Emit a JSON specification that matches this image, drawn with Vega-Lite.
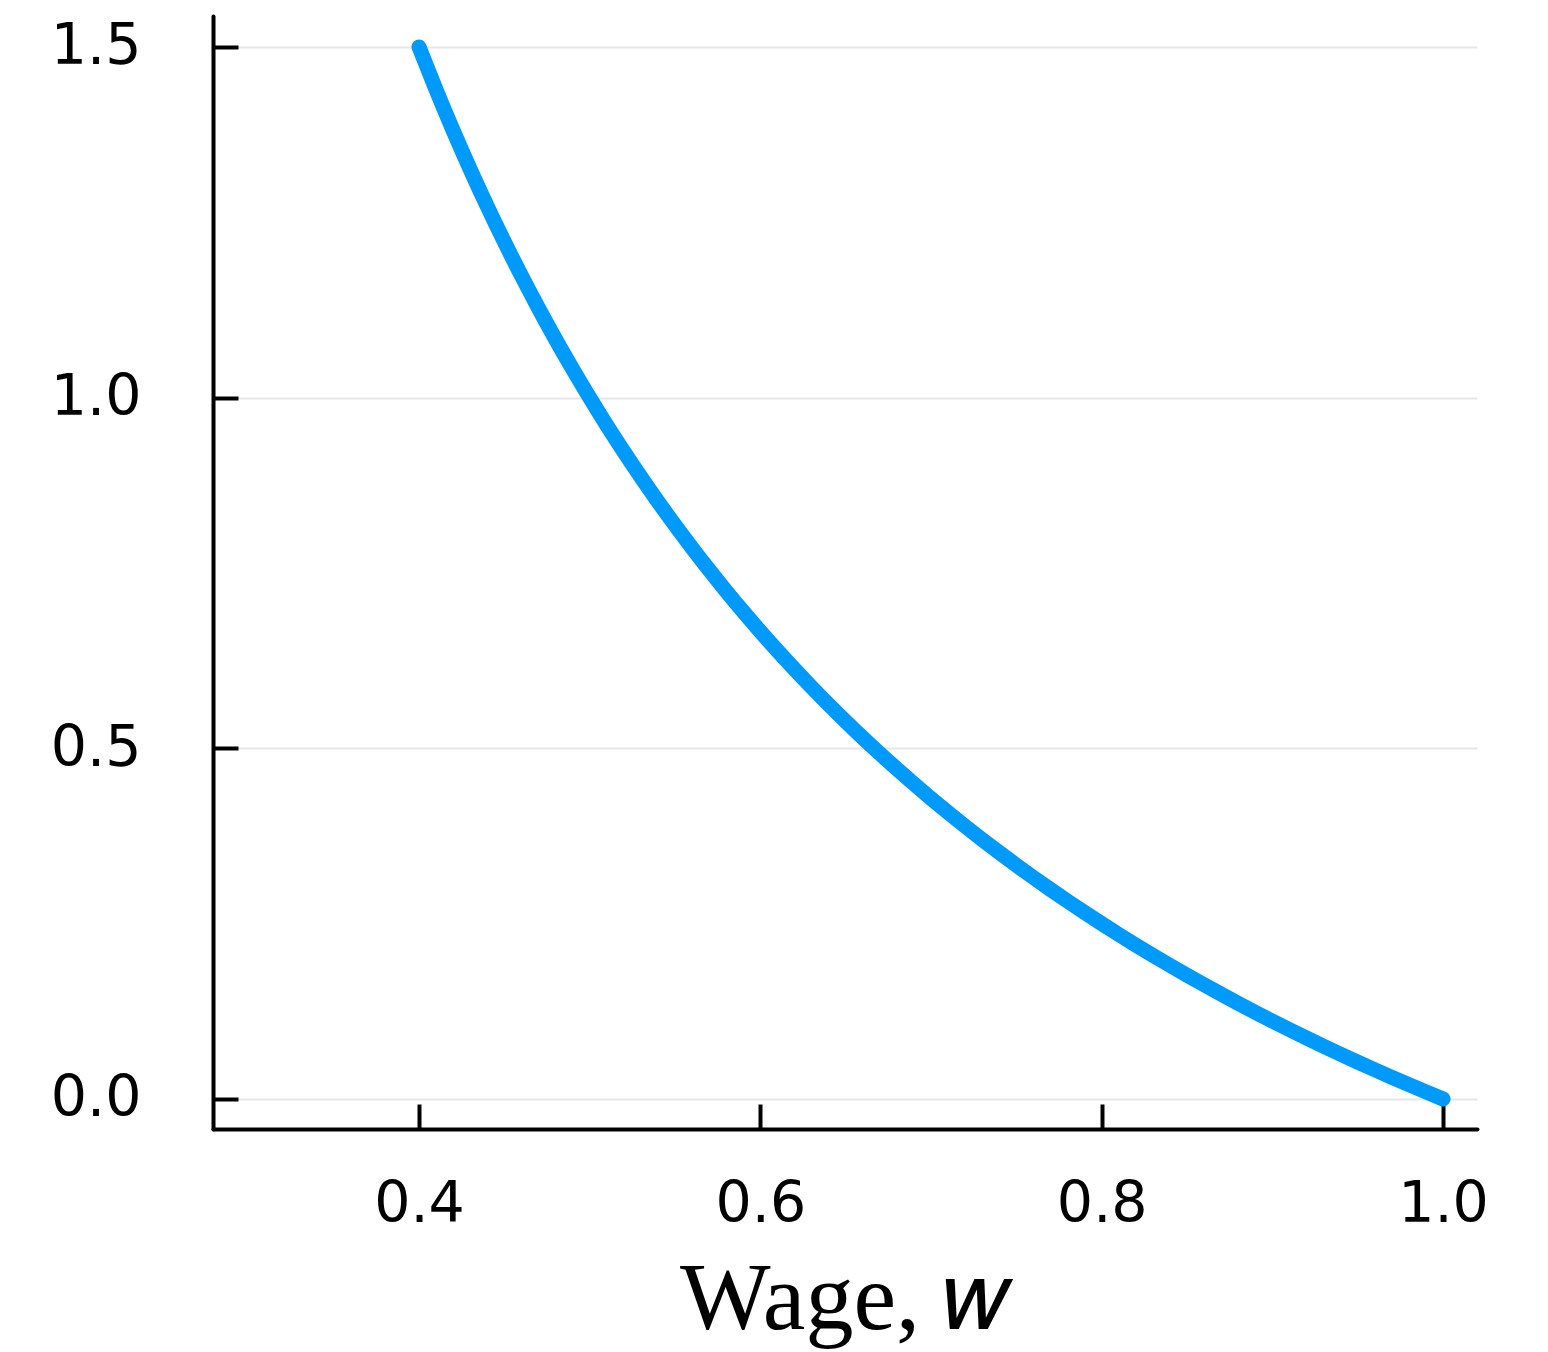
{
  "$schema": "https://vega.github.io/schema/vega-lite/v6.json",
  "width": 1264,
  "height": 1113,
  "autosize": "none",
  "padding": {"left": 213, "top": 16, "right": 71, "bottom": 223},
  "background": "white",
  "config": {"view": {"stroke": null}},
  "data": {"values": [
    {"w": 0.40, "y": 1.5},
    {"w": 0.41, "y": 1.439024},
    {"w": 0.42, "y": 1.380952},
    {"w": 0.43, "y": 1.325581},
    {"w": 0.44, "y": 1.272727},
    {"w": 0.45, "y": 1.222222},
    {"w": 0.46, "y": 1.173913},
    {"w": 0.47, "y": 1.12766},
    {"w": 0.48, "y": 1.083333},
    {"w": 0.49, "y": 1.040816},
    {"w": 0.50, "y": 1.0},
    {"w": 0.51, "y": 0.960784},
    {"w": 0.52, "y": 0.923077},
    {"w": 0.53, "y": 0.886792},
    {"w": 0.54, "y": 0.851852},
    {"w": 0.55, "y": 0.818182},
    {"w": 0.56, "y": 0.785714},
    {"w": 0.57, "y": 0.754386},
    {"w": 0.58, "y": 0.724138},
    {"w": 0.59, "y": 0.694915},
    {"w": 0.60, "y": 0.666667},
    {"w": 0.61, "y": 0.639344},
    {"w": 0.62, "y": 0.612903},
    {"w": 0.63, "y": 0.587302},
    {"w": 0.64, "y": 0.5625},
    {"w": 0.65, "y": 0.538462},
    {"w": 0.66, "y": 0.515152},
    {"w": 0.67, "y": 0.492537},
    {"w": 0.68, "y": 0.470588},
    {"w": 0.69, "y": 0.449275},
    {"w": 0.70, "y": 0.428571},
    {"w": 0.71, "y": 0.408451},
    {"w": 0.72, "y": 0.388889},
    {"w": 0.73, "y": 0.369863},
    {"w": 0.74, "y": 0.351351},
    {"w": 0.75, "y": 0.333333},
    {"w": 0.76, "y": 0.315789},
    {"w": 0.77, "y": 0.298701},
    {"w": 0.78, "y": 0.282051},
    {"w": 0.79, "y": 0.265823},
    {"w": 0.80, "y": 0.25},
    {"w": 0.81, "y": 0.234568},
    {"w": 0.82, "y": 0.219512},
    {"w": 0.83, "y": 0.204819},
    {"w": 0.84, "y": 0.190476},
    {"w": 0.85, "y": 0.176471},
    {"w": 0.86, "y": 0.162791},
    {"w": 0.87, "y": 0.149425},
    {"w": 0.88, "y": 0.136364},
    {"w": 0.89, "y": 0.123596},
    {"w": 0.90, "y": 0.111111},
    {"w": 0.91, "y": 0.098901},
    {"w": 0.92, "y": 0.086957},
    {"w": 0.93, "y": 0.075269},
    {"w": 0.94, "y": 0.06383},
    {"w": 0.95, "y": 0.052632},
    {"w": 0.96, "y": 0.041667},
    {"w": 0.97, "y": 0.030928},
    {"w": 0.98, "y": 0.020408},
    {"w": 0.99, "y": 0.010101},
    {"w": 1.00, "y": 0.0}
  ]},
  "mark": {"type": "line", "color": "#009AFA", "strokeWidth": 15, "strokeCap": "round", "strokeJoin": "round", "interpolate": "monotone"},
  "encoding": {
    "x": {
      "field": "w", "type": "quantitative",
      "scale": {"domain": [0.2793, 1.0199], "nice": false, "zero": false},
      "axis": {
        "title": "Wage, 𝑤",
        "titleFont": "Liberation Serif",
        "titleFontSize": 96,
        "titleFontWeight": "normal",
        "titleColor": "black",
        "titlePadding": 20,
        "values": [0.4, 0.6, 0.8, 1.0],
        "format": ".1f",
        "grid": false,
        "domainColor": "black",
        "domainWidth": 4,
        "domainCap": "round",
        "tickColor": "black",
        "tickWidth": 4,
        "tickSize": -25,
        "labelFont": "DejaVu Sans",
        "labelFontSize": 57,
        "labelColor": "black",
        "labelPadding": 72
      }
    },
    "y": {
      "field": "y", "type": "quantitative",
      "scale": {"domain": [-0.0428, 1.5442], "nice": false, "zero": false},
      "axis": {
        "title": null,
        "values": [0, 0.5, 1.0, 1.5],
        "format": ".1f",
        "grid": true,
        "gridColor": "#e6e6e6",
        "gridWidth": 2,
        "domainColor": "black",
        "domainWidth": 4,
        "domainCap": "round",
        "tickColor": "black",
        "tickWidth": 4,
        "tickSize": -25,
        "labelFont": "DejaVu Sans",
        "labelFontSize": 57,
        "labelColor": "black",
        "labelPadding": 97
      }
    }
  }
}
